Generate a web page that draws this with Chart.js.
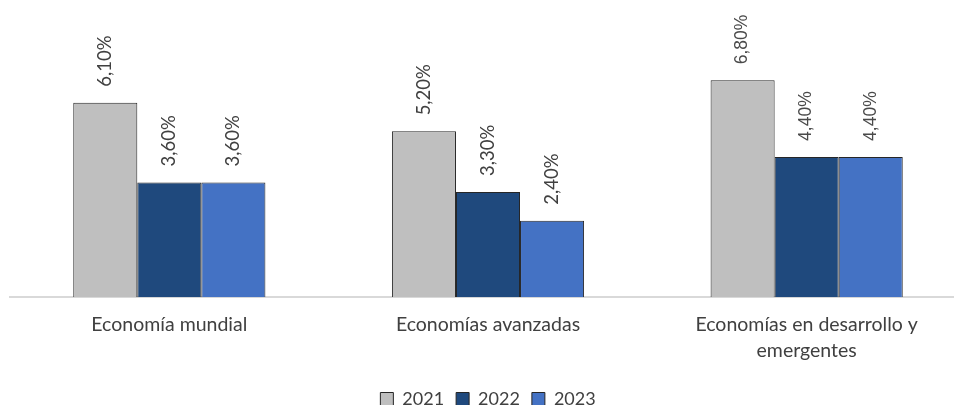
<!DOCTYPE html>
<html lang="es">
<head>
<meta charset="utf-8">
<title>Crecimiento económico</title>
<script src="https://cdn.jsdelivr.net/npm/chart.js@4.4.1/dist/chart.umd.min.js"></script>
<style>
    html, body { margin: 0; padding: 0; background: #ffffff; overflow: hidden; }
    #wrap { width: 954px; height: 405px; overflow: hidden; }
</style>
</head>
<body>
<div id="wrap"><canvas id="growthChart" width="966" height="418"></canvas></div>
<script>
// Categories and yearly growth rates (%)
const categories = [
    'Economía mundial',
    'Economías avanzadas',
    ['Economías en desarrollo y', 'emergentes']
];
const years = ['2021', '2022', '2023'];
const growth2021 = [6.1, 5.2, 6.8];
const growth2022 = [3.6, 3.3, 4.4];
const growth2023 = [3.6, 2.4, 4.4];

const barColors = ['#BFBFBF', '#1F497D', '#4472C4'];
const textColor = '#404040';
const baseFont = 'Lato';

// Rotated value labels above each bar
const valueLabels = {
    id: 'valueLabels',
    afterDatasetsDraw(chart) {
        const ctx = chart.ctx;
        chart.data.datasets.forEach((ds, di) => {
            const meta = chart.getDatasetMeta(di);
            meta.data.forEach((bar, i) => {
                const text = ds.data[i].toFixed(2).replace('.', ',') + '%';
                ctx.save();
                ctx.translate(bar.x, bar.y - 16);
                ctx.rotate(-Math.PI / 2);
                // last group uses a plain sans face
                ctx.font = i === 2 ? '17.5px "Liberation Sans"' : '18.5px ' + baseFont;
                ctx.fillStyle = i === 2 ? '#4a4a4a' : textColor;
                ctx.textAlign = 'left';
                ctx.textBaseline = 'middle';
                ctx.fillText(text, 0, 0);
                ctx.restore();
            });
        });
    }
};

const ctx = document.getElementById('growthChart').getContext('2d');
const chart = new Chart(ctx, {
    type: 'bar',
    data: {
        labels: categories,
        datasets: [growth2021, growth2022, growth2023].map((values, k) => ({
            label: years[k],
            data: values,
            backgroundColor: barColors[k],
            borderColor: '#262626',
            borderWidth: 1,
            barPercentage: 1.0,
            categoryPercentage: 0.603
        }))
    },
    options: {
        responsive: false,
        animation: false,
        layout: {
            padding: { left: 10, right: 0, top: 42, bottom: 0 }
        },
        scales: {
            x: {
                grid: { display: false, drawTicks: false },
                border: { display: true, color: '#D9D9D9', width: 2 },
                ticks: {
                    color: textColor,
                    padding: 15,
                    maxRotation: 0,
                    font: { family: baseFont, size: 19.5, lineHeight: 1.3 }
                }
            },
            y: {
                display: false,
                min: 0,
                max: 8
            }
        },
        plugins: {
            legend: {
                position: 'bottom',
                labels: {
                    color: textColor,
                    boxWidth: 13,
                    boxHeight: 13,
                    padding: 12,
                    font: { family: baseFont, size: 18 }
                }
            },
            tooltip: { enabled: false }
        }
    },
    plugins: [valueLabels]
});
</script>
</body>
</html>
